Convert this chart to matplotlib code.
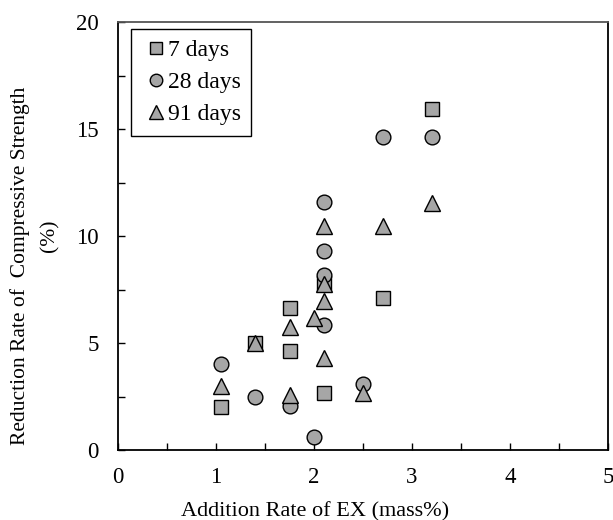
import matplotlib
matplotlib.use("Agg")
from matplotlib import pyplot as plt
from matplotlib.ticker import MultipleLocator

plt.rcParams['font.family'] = ['Liberation Serif', 'DejaVu Serif']

# addition rate of EX (mass%) and reduction rate (%)
x7 = [1.05, 1.4, 1.75, 1.75, 2.1, 2.1, 2.7, 3.2]
y7 = [2.0, 5.0, 6.65, 4.64, 7.8, 2.68, 7.09, 15.93]

x28 = [1.05, 1.4, 1.75, 2.0, 2.1, 2.1, 2.1, 2.1, 2.5, 2.7, 3.2]
y28 = [4.0, 2.5, 2.06, 0.62, 11.6, 9.3, 8.2, 5.84, 3.07, 14.64, 14.64]

x91 = [1.05, 1.4, 1.75, 1.75, 2.0, 2.1, 2.1, 2.1, 2.1, 2.5, 2.7, 3.2]
y91 = [3.0, 5.0, 5.76, 2.57, 6.15, 10.47, 7.76, 6.96, 4.31, 2.68, 10.47, 11.56]

W, H = 613, 520
fig = plt.figure(figsize=(W / 100, H / 100), dpi=100)
ax = fig.add_axes([118 / W, 1 - 450 / H, 490 / W, 428 / H])

style = dict(linestyle='none', markerfacecolor='#a6a6a6', markeredgecolor='black',
             markeredgewidth=1.0)
ax.plot(x7, y7, marker='s', markersize=10.3, label='7 days', **style)
ax.plot(x28, y28, marker='o', markersize=10.6, label='28 days', **style)
ax.plot(x91, y91, marker='^', markersize=11.5, label='91 days', **style)

ax.set_xlim(0, 5)
ax.set_ylim(0, 20)
ax.xaxis.set_major_locator(MultipleLocator(1))
ax.xaxis.set_minor_locator(MultipleLocator(0.5))
ax.yaxis.set_major_locator(MultipleLocator(5))
ax.yaxis.set_minor_locator(MultipleLocator(2.5))
ax.tick_params(which='both', direction='in', labelsize=16.5, length=5, width=1,
               top=False, right=False)
ax.tick_params(axis='x', which='major', pad=12)
ax.tick_params(axis='y', which='major', pad=14)
for s in ax.spines.values():
    s.set_linewidth(1.3)
ax.spines['top'].set_color('#555555')

fig.text(315.5 / W, 4 / H, "Addition Rate of EX (mass%)", fontsize=16,
         ha='center', va='baseline')
fig.text(20 / W, 1 - 266 / H, "Reduction Rate of  Compressive Strength",
         fontsize=15.5, rotation=90, ha='center', va='center')
fig.text(50 / W, 1 - 236 / H, "(%)", fontsize=15.5, rotation=90,
         ha='center', va='center')

leg = ax.legend(loc='upper left', bbox_to_anchor=(131 / W, 1 - 29 / H),
                bbox_transform=fig.transFigure, borderaxespad=0, fontsize=17,
                fancybox=False, edgecolor='black', framealpha=1,
                handlelength=1.2, handletextpad=-0.1, borderpad=0.45,
                labelspacing=0.45, markerscale=0.85)
leg.get_frame().set_linewidth(1.0)

plt.savefig("out.png", dpi=100)
